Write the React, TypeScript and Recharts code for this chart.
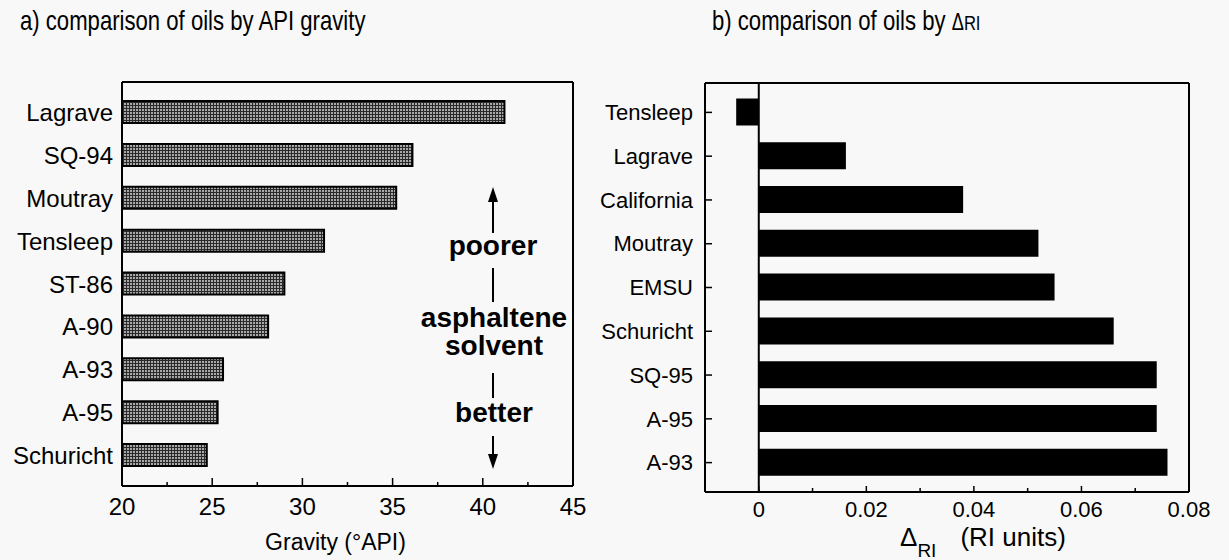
import React from "react";
import { Bar, BarChart, ReferenceLine, XAxis, YAxis } from "recharts";

// panel a) API gravity
const gravityOils = ["Lagrave", "SQ-94", "Moutray", "Tensleep", "ST-86", "A-90", "A-93", "A-95", "Schuricht"];
const gravityValues = [41.2, 36.1, 35.2, 31.2, 29.0, 28.1, 25.6, 25.3, 24.7];
const gravityTicks = [20, 22.5, 25, 27.5, 30, 32.5, 35, 37.5, 40, 42.5, 45];

// panel b) delta RI
const riOils = ["Tensleep", "Lagrave", "California", "Moutray", "EMSU", "Schuricht", "SQ-95", "A-95", "A-93"];
const riValues = [-0.0042, 0.0162, 0.038, 0.052, 0.055, 0.066, 0.074, 0.074, 0.076];
const riTicks = [-0.01, 0, 0.01, 0.02, 0.03, 0.04, 0.05, 0.06, 0.07, 0.08];

const gravityData = gravityOils.map((name, i) => ({ name, value: gravityValues[i] }));
const riData = riOils.map((name, i) => ({ name, value: riValues[i] }));

const FONT = "'Liberation Sans', Arial, Helvetica, sans-serif";
const INK = "#000";

function GravityTick(props: any) {
  const { x, y, payload } = props;
  const v = payload.value;
  const major = v % 5 === 0;
  return (
    <g>
      <line x1={x} x2={x} y1={y} y2={y - (major ? 8 : 4)} stroke={INK} strokeWidth={1.5} />
      {major && (
        <text x={x} y={y + 29} textAnchor="middle" fontSize={24} fontFamily={FONT} fill={INK}>
          {v}
        </text>
      )}
    </g>
  );
}

function RiTick(props: any) {
  const { x, y, payload } = props;
  const v = payload.value;
  const k = Math.round(v * 100);
  const labelled = k >= 0 && k % 2 === 0;
  return (
    <g>
      <line x1={x} x2={x} y1={y} y2={y - (labelled ? 6 : 4)} stroke={INK} strokeWidth={1.5} />
      {labelled && (
        <text x={x} y={y + 25} textAnchor="middle" fontSize={22} fontFamily={FONT} fill={INK}>
          {k === 0 ? "0" : v.toFixed(2)}
        </text>
      )}
    </g>
  );
}

function RiCategoryTick(props: any) {
  const { x, y, payload } = props;
  return (
    <g>
      <line x1={x} x2={x + 7} y1={y} y2={y} stroke={INK} strokeWidth={1.5} />
      <text x={x - 12} y={y} dy="0.35em" textAnchor="end" fontSize={22} fontFamily={FONT} fill={INK}>
        {payload.value}
      </text>
    </g>
  );
}

function GravityTitle(props: any) {
  const { x, width, y } = props.viewBox;
  return (
    <text x={x + width / 2 - 12} y={y + 64} textAnchor="middle" fontSize={23} fontFamily={FONT} fill={INK}>
      Gravity (°API)
    </text>
  );
}

function RiTitle(props: any) {
  const { x, width, y } = props.viewBox;
  return (
    <text x={x + width / 2 - 47} y={y + 54} fontFamily={FONT} fill={INK} fontSize={26}>
      <tspan>Δ</tspan>
      <tspan dy={11} fontSize={19}>RI</tspan>
      <tspan dy={-11} dx={24}>(RI units)</tspan>
    </text>
  );
}

const titleStyle: React.CSSProperties = {
  position: "absolute",
  top: 5,
  fontSize: 28,
  whiteSpace: "nowrap",
  transform: "scaleX(0.79)",
  transformOrigin: "left top",
};

export default function App() {
  return (
    <div
      style={{
        position: "absolute",
        left: 0,
        top: 0,
        width: 1229,
        height: 560,
        background: "#f8f8f8",
        fontFamily: FONT,
        color: INK,
        overflow: "hidden",
      }}
    >
      <div style={{ ...titleStyle, left: 20 }}>a) comparison of oils by API gravity</div>
      <div style={{ ...titleStyle, left: 712 }}>
        b) comparison of oils by <span style={{ fontSize: 23 }}>Δ</span>
        <span style={{ fontSize: 21 }}>RI</span>
      </div>

      <div style={{ position: "absolute", left: 0, top: 0 }}>
        <BarChart
          width={600}
          height={560}
          data={gravityData}
          layout="vertical"
          margin={{ top: 81, right: 26, bottom: 0, left: 0 }}
        >
          <defs>
            <pattern id="hatch" width="3" height="3" patternUnits="userSpaceOnUse">
              <rect width="3" height="3" fill="#a8a8a8" />
              <rect width="3" height="1" fill="#2a2a2a" />
              <rect width="1" height="3" fill="#2a2a2a" />
            </pattern>
          </defs>
          <XAxis
            type="number"
            domain={[20, 45]}
            allowDataOverflow
            ticks={gravityTicks}
            interval={0}
            tick={<GravityTick />}
            tickLine={false}
            tickSize={0}
            tickMargin={0}
            height={74}
            axisLine={{ stroke: INK, strokeWidth: 2 }}
            label={<GravityTitle />}
          />
          <XAxis
            xAxisId="top"
            orientation="top"
            type="number"
            domain={[20, 45]}
            tick={false}
            tickLine={false}
            height={1}
            axisLine={{ stroke: INK, strokeWidth: 2 }}
          />
          <YAxis
            type="category"
            dataKey="name"
            width={122}
            tickLine={false}
            tickSize={0}
            tickMargin={9}
            padding={{ top: 9, bottom: 9 }}
            tick={{ fill: INK, fontSize: 24, fontFamily: FONT }}
            axisLine={{ stroke: INK, strokeWidth: 2 }}
            interval={0}
          />
          <YAxis
            yAxisId="right"
            orientation="right"
            type="category"
            dataKey="name"
            width={1}
            tick={false}
            tickLine={false}
            axisLine={{ stroke: INK, strokeWidth: 2 }}
          />
          <Bar
            dataKey="value"
            barSize={22}
            fill="url(#hatch)"
            stroke={INK}
            strokeWidth={2}
            isAnimationActive={false}
          />
        </BarChart>
      </div>

      <svg
        width={600}
        height={560}
        style={{ position: "absolute", left: 0, top: 0, pointerEvents: "none" }}
        fontFamily={FONT}
      >
        <g stroke={INK} strokeWidth={2}>
          <line x1={493} x2={493} y1={233} y2={198} />
          <line x1={493} x2={493} y1={268} y2={302} />
          <line x1={493} x2={493} y1={373} y2={398} />
          <line x1={493} x2={493} y1={436} y2={458} />
        </g>
        <polygon points="493,187 488,202 498,202" fill={INK} />
        <polygon points="493,469 488,454 498,454" fill={INK} />
        <g fontWeight="bold" fontSize={28} textAnchor="middle" fill={INK}>
          <text x={493} y={255}>poorer</text>
          <text x={494} y={327}>asphaltene</text>
          <text x={494} y={355}>solvent</text>
          <text x={494} y={422}>better</text>
        </g>
      </svg>

      <div style={{ position: "absolute", left: 600, top: 0 }}>
        <BarChart
          width={629}
          height={560}
          data={riData}
          layout="vertical"
          margin={{ top: 82, right: 39, bottom: 0, left: 0 }}
        >
          <XAxis
            type="number"
            domain={[-0.01, 0.08]}
            allowDataOverflow
            ticks={riTicks}
            interval={0}
            tick={<RiTick />}
            tickLine={false}
            tickSize={0}
            tickMargin={0}
            height={68}
            axisLine={{ stroke: INK, strokeWidth: 2 }}
            label={<RiTitle />}
          />
          <XAxis
            xAxisId="top"
            orientation="top"
            type="number"
            domain={[-0.01, 0.08]}
            tick={false}
            tickLine={false}
            height={1}
            axisLine={{ stroke: INK, strokeWidth: 2 }}
          />
          <YAxis
            type="category"
            dataKey="name"
            width={105}
            tickLine={false}
            tickSize={0}
            tickMargin={0}
            padding={{ top: 7.5, bottom: 7.5 }}
            tick={<RiCategoryTick />}
            axisLine={{ stroke: INK, strokeWidth: 2 }}
            interval={0}
          />
          <YAxis
            yAxisId="right"
            orientation="right"
            type="category"
            dataKey="name"
            width={1}
            tick={false}
            tickLine={false}
            axisLine={{ stroke: INK, strokeWidth: 2 }}
          />
          <ReferenceLine x={0} stroke={INK} strokeWidth={2} />
          <Bar dataKey="value" barSize={27} fill={INK} isAnimationActive={false} />
        </BarChart>
      </div>
    </div>
  );
}
